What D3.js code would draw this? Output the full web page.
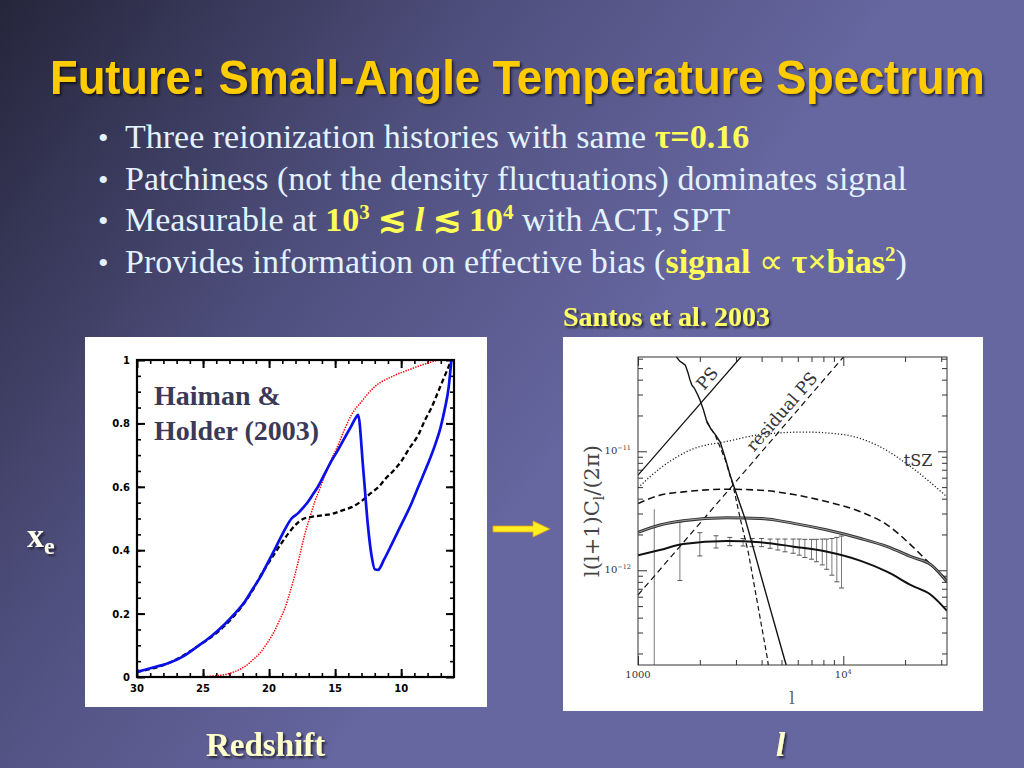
<!DOCTYPE html>
<html>
<head>
<meta charset="utf-8">
<title></title>
<style type="text/css">
  body{ padding:0; margin:0; overflow:hidden; background:#2a2a44; }
</style>
</head>
<body>
<div id="slide"></div>
<script src="https://cdn.jsdelivr.net/npm/d3@7/dist/d3.min.js"></script>
<script type="text/javascript">

// ---------- left panel: ionized fraction vs redshift (Haiman & Holder 2003) ----------
var blueHist = [[30,0.016],[28.5,0.033],[27.6,0.044],[26.5,0.065],[25.4,0.097],[24.4,0.128],[23.4,0.165],[22.6,0.2],
  [21.8,0.24],[21.2,0.28],[20.6,0.32],[20.1,0.36],[19.6,0.40],[19.0,0.45],[18.3,0.50],[17.8,0.517],[17.4,0.535],
  [17.05,0.553],[16.7,0.575],[16.3,0.60],[15.8,0.64],[15.3,0.68],[14.8,0.715],[14.3,0.753],[13.8,0.79],[13.4,0.82],
  [13.26,0.827],[12.88,0.66],[12.5,0.47],[12.25,0.385],[12.0,0.34],[11.75,0.338],[11.3,0.37],[10.7,0.42],[10.0,0.48],
  [9.3,0.54],[8.7,0.6],[8.0,0.67],[7.45,0.73],[7.0,0.79],[6.7,0.845],[6.4,0.915],[6.2,1.0]];
var blackHist = [[30,0.016],[27.6,0.044],[25.4,0.097],[23.4,0.16],[22.3,0.21],[21.3,0.27],[20.5,0.33],[19.8,0.375],
  [19.1,0.42],[18.5,0.455],[18.0,0.48],[17.5,0.497],[16.8,0.505],[16.0,0.51],[15.2,0.515],[14.5,0.525],[13.8,0.535],
  [13.0,0.555],[12.3,0.58],[11.7,0.6],[11.2,0.625],[10.6,0.65],[10.0,0.68],[9.4,0.72],[8.7,0.764],[8.2,0.81],
  [7.7,0.85],[7.2,0.9],[6.7,0.95],[6.2,1.0]];
var redHist = [[30,0],[27,0],[25,0.001],[24,0.004],[23.4,0.007],[22.6,0.017],[21.8,0.034],[21.2,0.055],[20.6,0.08],
  [20.1,0.11],[19.6,0.144],[19.2,0.18],[18.8,0.217],[18.4,0.27],[18.06,0.32],[17.7,0.38],[17.3,0.45],[16.9,0.505],
  [16.54,0.553],[16.1,0.6],[15.78,0.637],[15.3,0.685],[14.77,0.732],[14.3,0.78],[13.76,0.827],[13.0,0.869],
  [12.0,0.916],[10.73,0.947],[9.5,0.968],[8.0,0.99],[7.0,1.0],[6,1.0]];
var zMajor = [30,25,20,15,10];
var zMinor = d3.range(7,30);
var xeMajor = [0,0.2,0.4,0.6,0.8,1];
var xeMinor = d3.range(0.05,1,0.05);
var xeLabels = ['0','0.2','0.4','0.6','0.8','1'];

// ---------- right panel: l(l+1)C_l/2pi (Santos et al. 2003) ----------
var psEll = [1000, 3300], psVal = [6.3e-12, 6.7e-11];
var resEll = [1000, 10100], resVal = [6.2e-13, 6.3e-11];
var cmbEll = [1540,1600,1650,1700,1750,1790,1830,1880,1950,2004,2080,2160,2260,2380,2510,2660,2810,3030,3340,3700,4050,4430,5180,5400];
var cmbVal = [6.2e-11,5.7e-11,5.5e-11,5.3e-11,4.6e-11,4.0e-11,3.6e-11,3.4e-11,3.0e-11,2.7e-11,2.25e-11,1.8e-11,1.55e-11,
  1.38e-11,1.2e-11,8.8e-12,6.3e-12,4.3e-12,2.64e-12,1.4e-12,8.0e-13,4.6e-13,1.77e-13,1.4e-13];
var lensEll = [2160,2380,2660,2900,3160,3450,3950,4280,4350];
var lensVal = [1.76e-11,1.36e-11,8.5e-12,5.2e-12,2.64e-12,1.4e-12,3.83e-13,1.77e-13,1.4e-13];
var tszEll = [1000,1277,1858,2706,3940,6420,10070,14660,21360,32000];
var tszVal = [4.93e-12,7.16e-12,1.05e-11,1.21e-11,1.38e-11,1.45e-11,1.38e-11,1.12e-11,7.39e-12,4.14e-12];
var curveEll = [1000,1277,1660,2706,3940,5735,8350,12160,16400,21360,26760,32000];
var dashVal = [3.64e-12,4.28e-12,4.56e-12,4.8e-12,4.71e-12,4.33e-12,3.76e-12,3.1e-12,2.4e-12,1.63e-12,1.11e-12,8.3e-13];
var thickVal = [2.08e-12,2.4e-12,2.61e-12,2.76e-12,2.73e-12,2.48e-12,2.18e-12,1.85e-12,1.58e-12,1.3e-12,1.11e-12,8.0e-13];
var lowVal = [1.34e-12,1.48e-12,1.66e-12,1.76e-12,1.72e-12,1.58e-12,1.43e-12,1.2e-12,9.7e-13,7.5e-13,6.2e-13,4.56e-13];
var errEll = [1200,1600,2000,2400,2800,3250,3600,4000,4400,4800,5200,5700,6100,6500,7000,7400,7900,8300,8800,9300,9800];
var errHi = [3.26e-12,2.55e-12,2.07e-12,1.95e-12,1.89e-12,1.85e-12,1.85e-12,1.85e-12,1.83e-12,1.83e-12,1.83e-12,1.83e-12,
  1.83e-12,1.82e-12,1.82e-12,1.82e-12,1.83e-12,1.83e-12,1.85e-12,1.89e-12,1.94e-12];
var errLo = [1e-13,8.2e-13,1.32e-12,1.54e-12,1.61e-12,1.6e-12,1.58e-12,1.58e-12,1.53e-12,1.48e-12,1.43e-12,1.39e-12,
  1.34e-12,1.28e-12,1.24e-12,1.18e-12,1.11e-12,1.02e-12,9.1e-13,8.0e-13,7.1e-13];
var ellMajor = [1000, 10000], ellMinor = [2000,3000,4000,5000,6000,7000,8000,9000,20000,30000];
var clMajor = [1e-12, 1e-11];
var clMinor = [2e-13,3e-13,4e-13,5e-13,6e-13,7e-13,8e-13,9e-13,2e-12,3e-12,4e-12,5e-12,6e-12,7e-12,8e-12,9e-12,2e-11,3e-11,4e-11,5e-11,6e-11];

var bullets = [
  [{t:'Three reionization histories with same '},{t:'\u03c4=0.16',y:1}],
  [{t:'Patchiness (not the density fluctuations) dominates signal'}],
  [{t:'Measurable at '},{t:'10',y:1},{t:'3',y:1,sup:1},{t:' \u2272 ',y:1},{t:'l',y:1,it:1},{t:' \u2272 10',y:1},{t:'4',y:1,sup:1},{t:' with ACT, SPT'}],
  [{t:'Provides information on effective bias ('},{t:'signal',y:1},{t:' \u221d ',y:1,nb:1},{t:'\u03c4\u00d7bias',y:1},{t:'2',y:1,sup:1},{t:')'}]
];

var width = 1024, height = 768;
var svg = d3.select('#slide').append('svg').attr('width',width).attr('height',height);
var defs = svg.append('defs');
var grad = defs.append('linearGradient').attr('id','bg').attr('gradientUnits','userSpaceOnUse')
  .attr('x1',0).attr('y1',0).attr('x2',580).attr('y2',430);
grad.append('stop').attr('offset',0).attr('stop-color','#25253b');
grad.append('stop').attr('offset',0.55).attr('stop-color','#4f4f7e');
grad.append('stop').attr('offset',1).attr('stop-color','#6666a0');
defs.append('filter').attr('id','sh').attr('x','-10%').attr('y','-20%').attr('width','130%').attr('height','150%')
  .append('feDropShadow').attr('dx',2).attr('dy',2).attr('stdDeviation',1).attr('flood-color','#000').attr('flood-opacity',0.6);
defs.append('clipPath').attr('id','clipR').append('rect').attr('x',638).attr('y',357).attr('width',309).attr('height',308);

svg.append('rect').attr('width',width).attr('height',height).attr('fill','url(#bg)');

// title: measured, then squeezed horizontally to the reference width
var title = svg.append('text').attr('x',0).attr('y',0)
  .style('font-family','"Liberation Sans Narrow","Liberation Sans",Arial,sans-serif').style('font-weight','bold')
  .style('font-size','49px').attr('fill','#ffcc00').attr('filter','url(#sh)')
  .text('Future: Small-Angle Temperature Spectrum');
var tw = title.node().getComputedTextLength();
title.attr('transform','translate(50,94) scale('+(935/tw)+',1)');

// bullets
bullets.forEach(function(parts,i){
  var by = 148 + i*41.5;
  svg.append('text').attr('x',98).attr('y',by).attr('fill','#e2f2ff').style('font-family','"Liberation Serif",serif')
    .style('font-size','30px').text('\u2022');
  var t = svg.append('text').attr('x',125).attr('y',by).attr('fill','#e2f2ff')
    .style('font-family','"Liberation Serif","Times New Roman",serif').style('font-size','34px');
  var prevSup = false;
  parts.forEach(function(p){
    var s = t.append('tspan').text(p.t);
    if (p.y) s.attr('fill','#ffff55').style('font-weight', p.nb ? 'normal' : 'bold');
    if (p.it) s.style('font-style','italic');
    if (p.sup) s.attr('dy',-12).style('font-size','21px');
    else if (prevSup) s.attr('dy',12);
    prevSup = !!p.sup;
  });
});

// panels
svg.append('rect').attr('x',85).attr('y',337).attr('width',402).attr('height',370).attr('fill','#fff');
svg.append('rect').attr('x',563).attr('y',337).attr('width',420).attr('height',374).attr('fill','#fff');

svg.append('text').attr('x',563).attr('y',326).attr('fill','#ffff66').attr('filter','url(#sh)')
  .style('font-family','"Liberation Serif",serif').style('font-weight','bold').style('font-size','28px').text('Santos et al. 2003');

// ----- left chart -----
var xz = d3.scaleLinear().domain([30,6]).range([137,454]);
var yx = d3.scaleLinear().domain([0,1]).range([677,360]);
var gL = svg.append('g');

function tickSet(g, axis, scale, vals, size, tr, sw, col){
  g.append('g').attr('transform',tr).call(axis(scale).tickValues(vals).tickSizeInner(-size).tickSizeOuter(0).tickFormat(''))
    .call(function(a){ a.select('.domain').remove(); a.selectAll('line').attr('stroke',col).attr('stroke-width',sw); });
}
tickSet(gL, d3.axisBottom, xz, zMajor, 8, 'translate(0,677)', 2, '#000');
tickSet(gL, d3.axisBottom, xz, zMinor, 4, 'translate(0,677)', 1.6, '#000');
tickSet(gL, d3.axisTop, xz, zMajor, 8, 'translate(0,360)', 2, '#000');
tickSet(gL, d3.axisTop, xz, zMinor, 4, 'translate(0,360)', 1.6, '#000');
tickSet(gL, d3.axisLeft, yx, xeMajor, 8, 'translate(137,0)', 2, '#000');
tickSet(gL, d3.axisLeft, yx, xeMinor, 4, 'translate(137,0)', 1.6, '#000');
tickSet(gL, d3.axisRight, yx, xeMajor, 8, 'translate(454,0)', 2, '#000');
tickSet(gL, d3.axisRight, yx, xeMinor, 4, 'translate(454,0)', 1.6, '#000');

gL.selectAll('.zl').data(zMajor).join('text').attr('x',d=>xz(d)).attr('y',692).attr('text-anchor','middle')
  .style('font-family','"DejaVu Sans",sans-serif').style('font-weight','bold').style('font-size','10px').text(d=>d);
gL.selectAll('.yl').data(xeMajor).join('text').attr('x',130).attr('y',d=>yx(d)+4).attr('text-anchor','end')
  .style('font-family','"DejaVu Sans",sans-serif').style('font-weight','bold').style('font-size','10px').text((d,i)=>xeLabels[i]);

var lineL = d3.line().x(d=>xz(d[0])).y(d=>yx(d[1])).curve(d3.curveMonotoneX);
gL.append('path').attr('d',lineL(redHist)).attr('fill','none').attr('stroke','#ff0000').attr('stroke-width',1.5).attr('stroke-dasharray','1.4,1.2');
gL.append('path').attr('d',lineL(blackHist)).attr('fill','none').attr('stroke','#000').attr('stroke-width',2.3).attr('stroke-dasharray','5,3');
gL.append('path').attr('d',lineL(blueHist)).attr('fill','none').attr('stroke','#0a10e8').attr('stroke-width',2.7).attr('stroke-linejoin','round');
gL.append('rect').attr('x',137).attr('y',360).attr('width',317).attr('height',317).attr('fill','none').attr('stroke','#000').attr('stroke-width',2.2);

var hh = gL.append('text').attr('fill','#3a3a58').style('font-family','"Liberation Serif",serif').style('font-weight','bold').style('font-size','28px');
hh.append('tspan').attr('x',154).attr('y',405).text('Haiman &');
hh.append('tspan').attr('x',154).attr('y',440).text('Holder (2003)');

// ----- right chart -----
var xl = d3.scaleLog().domain([1000,32000]).range([638,947]);
var yl = d3.scaleLog().domain([1.6e-13,6.2e-11]).range([665,357]);
var gR = svg.append('g');
tickSet(gR, d3.axisBottom, xl, ellMajor, 9, 'translate(0,665)', 1, '#333');
tickSet(gR, d3.axisBottom, xl, ellMinor, 5, 'translate(0,665)', 1, '#333');
tickSet(gR, d3.axisTop, xl, ellMajor, 9, 'translate(0,357)', 1, '#333');
tickSet(gR, d3.axisTop, xl, ellMinor, 5, 'translate(0,357)', 1, '#333');
tickSet(gR, d3.axisLeft, yl, clMajor, 9, 'translate(638,0)', 1, '#333');
tickSet(gR, d3.axisLeft, yl, clMinor, 5, 'translate(638,0)', 1, '#333');
tickSet(gR, d3.axisRight, yl, clMajor, 9, 'translate(947,0)', 1, '#333');
tickSet(gR, d3.axisRight, yl, clMinor, 5, 'translate(947,0)', 1, '#333');

var serif = '"DejaVu Serif","Liberation Serif",serif';
gR.append('text').attr('x',xl(1000)).attr('y',678).attr('text-anchor','middle').attr('fill','#333').style('font-family',serif).style('font-size','10px').text('1000');
var t2 = gR.append('text').attr('x',xl(10000)).attr('y',678).attr('text-anchor','middle').attr('fill','#333').style('font-family',serif).style('font-size','10px');
t2.append('tspan').text('10'); t2.append('tspan').attr('dy',-4).style('font-size','6.5px').text('4');
[[1e-11,'\u221211'],[1e-12,'\u221212']].forEach(function(d){
  var t = gR.append('text').attr('x',631).attr('y',yl(d[0])+3).attr('text-anchor','end').attr('fill','#333').style('font-family',serif).style('font-size','10px');
  t.append('tspan').text('10'); t.append('tspan').attr('dy',-4).style('font-size','6.5px').text(d[1]);
});
var yt = gR.append('text').attr('transform','translate(599,511) rotate(-90)').attr('text-anchor','middle').attr('fill','#444')
  .style('font-family',serif).style('font-size','21px');
yt.append('tspan').text('l(l+1)C'); yt.append('tspan').attr('dy',5).style('font-size','14px').text('l');
yt.append('tspan').attr('dy',-5).text('/(2\u03c0)');
gR.append('text').attr('x',792).attr('y',704).attr('text-anchor','middle').attr('fill','#666').style('font-family',serif).style('font-size','17px').text('l');

var lineR = d3.line().x(d=>xl(d[0])).y(d=>yl(d[1]));
var lineRs = d3.line().x(d=>xl(d[0])).y(d=>yl(d[1])).curve(d3.curveMonotoneX);
var zip = (a,b)=>a.map((v,i)=>[v,b[i]]);
var gc = gR.append('g').attr('clip-path','url(#clipR)');

// error bars
errEll.forEach(function(l,i){
  var x = xl(l);
  gc.append('line').attr('x1',x).attr('x2',x).attr('y1',yl(errHi[i])).attr('y2',yl(errLo[i])).attr('stroke','#7a7a7a').attr('stroke-width',1);
  if (i>0) [errHi[i],errLo[i]].forEach(function(v){
    gc.append('line').attr('x1',x-2.5).attr('x2',x+2.5).attr('y1',yl(v)).attr('y2',yl(v)).attr('stroke','#555').attr('stroke-width',1);
  });
});

gc.append('path').attr('d',lineR(zip(psEll,psVal))).attr('fill','none').attr('stroke','#111').attr('stroke-width',1.3);
gc.append('path').attr('d',lineR(zip(resEll,resVal))).attr('fill','none').attr('stroke','#111').attr('stroke-width',1.2).attr('stroke-dasharray','6,4');
gc.append('path').attr('d',lineRs(zip(tszEll,tszVal))).attr('fill','none').attr('stroke','#222').attr('stroke-width',1.3).attr('stroke-dasharray','1.2,2');
gc.append('path').attr('d',lineRs(zip(curveEll,dashVal))).attr('fill','none').attr('stroke','#111').attr('stroke-width',1.6).attr('stroke-dasharray','7,4');
gc.append('path').attr('d',lineRs(zip(curveEll,thickVal))).attr('fill','none').attr('stroke','#333').attr('stroke-width',3);
gc.append('path').attr('d',lineRs(zip(curveEll,thickVal))).attr('fill','none').attr('stroke','#aaa').attr('stroke-width',0.9);
gc.append('path').attr('d',lineRs(zip(curveEll,lowVal))).attr('fill','none').attr('stroke','#111').attr('stroke-width',2);
gc.append('path').attr('d',lineR(zip(lensEll,lensVal))).attr('fill','none').attr('stroke','#111').attr('stroke-width',1.2).attr('stroke-dasharray','5,3');
gc.append('path').attr('d',lineR(zip(cmbEll,cmbVal))).attr('fill','none').attr('stroke','#111').attr('stroke-width',1.4);

gR.append('rect').attr('x',638).attr('y',357).attr('width',309).attr('height',308).attr('fill','none').attr('stroke','#333').attr('stroke-width',1);

// rotated line labels, angle taken from the scales
var ang = Math.atan2(yl(psVal[0]) - yl(psVal[1]), xl(psEll[1]) - xl(psEll[0])) * 180 / Math.PI;
function lineLabel(l, v, txt){
  gR.append('text').attr('transform','translate('+xl(l)+','+yl(v)+') rotate('+(-ang)+')').attr('text-anchor','middle')
    .attr('dy',-5).attr('fill','#333').style('font-family',serif).style('font-size','17px').text(txt);
}
lineLabel(2380, psVal[0]*Math.pow(2.38,2), 'PS');
lineLabel(5500, resVal[0]*Math.pow(5.5,2), 'residual PS');
gR.append('text').attr('x',918).attr('y',466).attr('text-anchor','middle').attr('fill','#333').style('font-family',serif).style('font-size','16px').text('tSZ');

// x_e, arrow and axis captions
var xe = svg.append('text').attr('x',27).attr('y',547).attr('fill','#fffff0').attr('filter','url(#sh)')
  .style('font-family','"Liberation Serif",serif').style('font-weight','bold').style('font-size','34px');
xe.append('tspan').text('x'); xe.append('tspan').attr('dy',7).style('font-size','24px').text('e');

svg.append('path').attr('d','M493,526 L533,526 L533,521 L550,529 L533,537 L533,532 L493,532 Z')
  .attr('fill','#ffee22').attr('stroke','#e0a020').attr('stroke-width',0.8);

svg.append('text').attr('x',206).attr('y',756).attr('fill','#ffffcc').attr('filter','url(#sh)')
  .style('font-family','"Liberation Serif",serif').style('font-weight','bold').style('font-size','33px').text('Redshift');
svg.append('text').attr('x',776).attr('y',756).attr('fill','#ffffcc').attr('filter','url(#sh)')
  .style('font-family','"Liberation Serif",serif').style('font-weight','bold').style('font-style','italic').style('font-size','33px').text('l');

</script>
</body>
</html>
